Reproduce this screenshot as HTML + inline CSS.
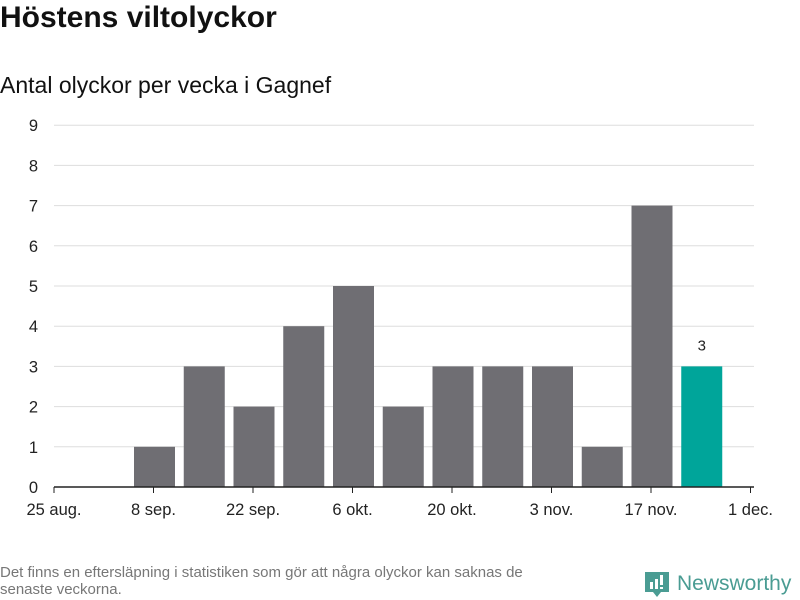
<!DOCTYPE html>
<html><head><meta charset="utf-8"><style>
body{margin:0;width:800px;height:600px;background:#fff;font-family:"Liberation Sans",sans-serif;overflow:hidden;position:relative;color:#111}
.t{position:absolute;left:0;top:1px;font-size:30px;font-weight:bold;margin:0}
.s{position:absolute;left:0;top:72px;font-size:23px}
.f{position:absolute;left:0;top:564px;font-size:15px;color:#777;width:560px;line-height:17px}
</style></head><body>
<h1 class="t">Höstens viltolyckor</h1>
<div class="s">Antal olyckor per vecka i Gagnef</div>
<svg id="c" width="800" height="600" style="position:absolute;left:0;top:0"></svg>
<div class="f">Det finns en eftersläpning i statistiken som gör att några olyckor kan saknas de senaste veckorna.</div>
<div style="position:absolute;left:645px;top:570px;display:flex;align-items:center">
<svg width="24" height="28"><path d="M0 2h24v20h-8l-4 5-4-5H0z" fill="#4a9c93"/><rect x="5" y="12" width="3" height="7" fill="#fff"/><rect x="10" y="9" width="3" height="10" fill="#fff"/><rect x="15" y="5" width="3" height="10" fill="#fff"/><rect x="15" y="17" width="3" height="2" fill="#fff"/></svg>
<span style="font-size:21px;color:#4a9c93;margin-left:8px">Newsworthy</span></div>
<script>
const weeks=["25 aug.","1 sep.","8 sep.","15 sep.","22 sep.","29 sep.","6 okt.","13 okt.","20 okt.","27 okt.","3 nov.","10 nov.","17 nov.","24 nov."];
const values=[0,0,1,3,2,4,5,2,3,3,3,1,7,3];
const yTicks=[0,1,2,3,4,5,6,7,8,9];
const xTickLabels=["25 aug.","8 sep.","22 sep.","6 okt.","20 okt.","3 nov.","17 nov.","1 dec."];
const xTickIdx=[0,2,4,6,8,10,12,14];
const NS="http://www.w3.org/2000/svg",svg=document.getElementById('c');
const x=i=>54+i*49.75, y=v=>487-v*40.2;
function el(t,a,txt){const e=document.createElementNS(NS,t);for(const k in a)e.setAttribute(k,a[k]);if(txt!=null)e.textContent=txt;svg.appendChild(e);return e;}
yTicks.forEach(v=>{
 const g=el('line',{x1:54,x2:754,y1:y(v),y2:y(v),stroke:'#ddd'});
 
 
 const t=el('text',{x:38,y:y(v)+6,'text-anchor':'end','font-size':16.5,fill:'#222'},v);
 
 
});
values.forEach((v,i)=>{
 const last=i===values.length-1;
 const r=el('rect',{x:x(i)-19.5,y:y(v),width:41,height:y(0)-y(v),fill:last?'#00a59a':'#6f6e73'});
 
 
 if(last){const l=el('text',{x:x(i)+1,y:y(v)-16,'text-anchor':'middle','font-size':15,fill:'#222'},v);
 
 }
});
const ax=el('line',{x1:54,x2:754,y1:487,y2:487,stroke:'#222','stroke-width':1.5});


xTickIdx.forEach((idx,k)=>{
 const tk=el('line',{x1:x(idx),x2:x(idx),y1:487,y2:493,stroke:'#222'});
 
 
 const t=el('text',{x:x(idx),y:515,'text-anchor':'middle','font-size':16.5,fill:'#222'},xTickLabels[k]);
 
 
});
</script>
</body></html>
